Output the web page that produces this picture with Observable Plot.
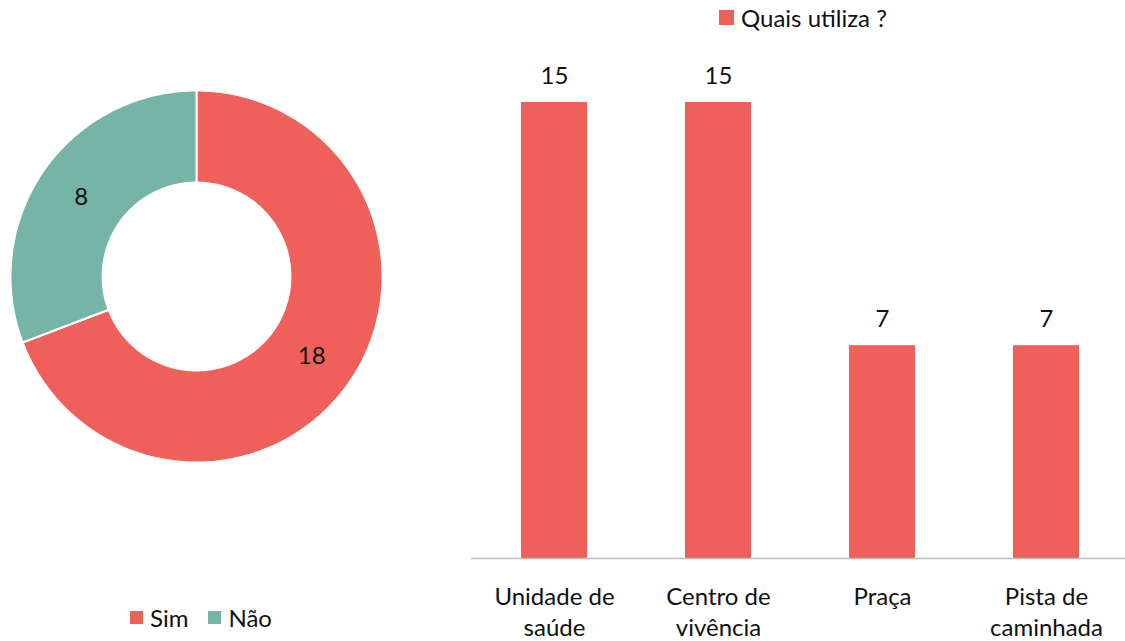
<!DOCTYPE html>
<html>
<head>
<meta charset="utf-8">
<script src="https://cdn.jsdelivr.net/npm/d3@7"></script>
<script src="https://cdn.jsdelivr.net/npm/@observablehq/plot@0.6"></script>
<style>
  html, body { margin: 0; padding: 0; background: #fff; width: 1125px; height: 641px; overflow: hidden; font-family: Lato, "Open Sans", sans-serif; }
  #donut { position: absolute; left: 0; top: 80px; width: 392px; }
  #bars { position: absolute; left: 458px; top: 40px; width: 670px; }
  #donut svg, #bars svg { max-width: none !important; }
  .legend { position: absolute; font-size: 24px; color: #111; display: flex; align-items: center; white-space: nowrap; }
  .sw { display: inline-block; width: 14px; height: 14px; margin-right: 7px; }
</style>
</head>
<body>
<div id="donut"></div>
<div id="bars"></div>
<div class="legend" id="legDonut" style="left:130px; top:603px;"></div>
<div class="legend" id="legBars" style="left:719px; top:3px;"></div>
<script>
// ---- Data ----
const pieLabels = ["Sim", "Não"];
const pieValues = [18, 8];
const pieColors = ["#EE6059", "#76B5A5"];

const barCategories = ["Unidade de saúde", "Centro de vivência", "Praça", "Pista de caminhada"];
const barTickLabels = ["Unidade de\nsaúde", "Centro de\nvivência", "Praça", "Pista de\ncaminhada"];
const barValues = [15, 15, 7, 7];
const barSeriesName = "Quais utiliza ?";
const barColor = "#EE6059";

// ---- Donut ----
const total = d3.sum(pieValues);
const R = 1, r = 0.505;
let acc = 0;
const slices = pieLabels.map((label, i) => {
  const a0 = acc / total * 2 * Math.PI;
  acc += pieValues[i];
  const a1 = acc / total * 2 * Math.PI;
  return {label, value: pieValues[i], color: pieColors[i], a0, a1};
});
function arcPoints(s) {
  const n = 200, pts = [];
  for (let k = 0; k <= n; k++) {
    const a = s.a0 + (s.a1 - s.a0) * k / n;
    pts.push({x: R * Math.sin(a), y: R * Math.cos(a)});
  }
  for (let k = n; k >= 0; k--) {
    const a = s.a0 + (s.a1 - s.a0) * k / n;
    pts.push({x: r * Math.sin(a), y: r * Math.cos(a)});
  }
  return pts;
}
const labelPts = slices.map(s => {
  const a = (s.a0 + s.a1) / 2, m = (R + r) / 2;
  return {x: m * Math.sin(a), y: m * Math.cos(a), text: String(s.value)};
});
const ext = 196 / 186;
const donut = Plot.plot({
  width: 392, height: 392,
  margin: 0,
  x: {domain: [-ext, ext], axis: null},
  y: {domain: [-ext, ext], axis: null},
  style: {fontFamily: "Lato, 'Open Sans', sans-serif", background: "transparent", overflow: "visible"},
  marks: [
    ...slices.map(s => Plot.line(arcPoints(s), {x: "x", y: "y", curve: "linear-closed", fill: s.color, stroke: "#fff", strokeWidth: 2})),
    Plot.text(labelPts, {x: "x", y: "y", text: "text", fontSize: 24, fill: "#111"})
  ]
});
document.getElementById("donut").appendChild(donut);

// ---- Bars ----
const barData = barCategories.map((c, i) => ({cat: c, value: barValues[i], tick: barTickLabels[i]}));
const bars = Plot.plot({
  width: 670, height: 600,
  marginLeft: 13, marginRight: 0, marginTop: 62, marginBottom: 82,
  x: {domain: barCategories, paddingInner: 0.6, paddingOuter: 0.3, label: null},
  y: {domain: [0, 15], axis: null},
  style: {fontFamily: "Lato, 'Open Sans', sans-serif", background: "transparent", overflow: "visible", color: "#111"},
  marks: [
    Plot.barY(barData, {x: "cat", y: "value", fill: barColor}),
    Plot.ruleY([0], {stroke: "#bfbfbf", strokeWidth: 1.3}),
    Plot.text(barData, {x: "cat", y: "value", text: d => String(d.value), lineAnchor: "bottom", dy: -19, fontSize: 24, fill: "#111"}),
    Plot.axisX({tickSize: 0, tickPadding: 24, fontSize: 24, lineHeight: 1.3, tickFormat: d => barTickLabels[barCategories.indexOf(d)], label: null, fill: "#111"})
  ]
});
document.getElementById("bars").appendChild(bars);

// ---- Legends ----
const legD = document.getElementById("legDonut");
pieLabels.forEach((l, i) => {
  const span = document.createElement("span");
  span.style.display = "inline-flex"; span.style.alignItems = "center";
  span.style.marginRight = i === 0 ? "20px" : "0";
  span.innerHTML = `<span class="sw" style="background:${pieColors[i]};width:13px;height:13px"></span>${l}`;
  legD.appendChild(span);
});
document.getElementById("legBars").innerHTML = `<span class="sw" style="background:${barColor};width:15px;height:15px"></span>${barSeriesName}`;
</script>
</body>
</html>
